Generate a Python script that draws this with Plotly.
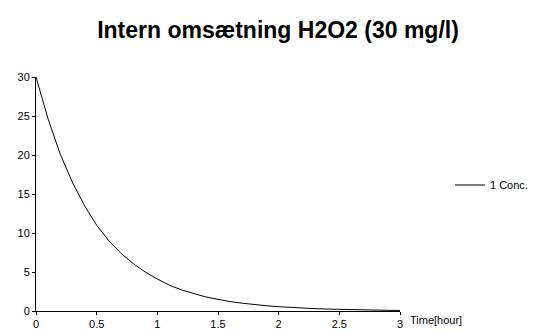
import plotly.graph_objects as go

time_hours = [0.0, 0.1, 0.2, 0.3, 0.4, 0.5, 0.6, 0.7, 0.8, 0.9, 1.0,
              1.1, 1.2, 1.3, 1.4, 1.5, 1.6, 1.7, 1.8, 1.9, 2.0,
              2.1, 2.2, 2.3, 2.4, 2.5, 2.6, 2.7, 2.8, 2.9, 3.0]
conc = [30.0, 24.6, 20.1, 16.5, 13.5, 11.0, 9.0, 7.4, 6.1, 5.0, 4.1,
        3.3, 2.7, 2.2, 1.8, 1.5, 1.2, 1.0, 0.8, 0.67, 0.55,
        0.45, 0.37, 0.30, 0.25, 0.20, 0.17, 0.14, 0.11, 0.09, 0.07]
series_name = "1 Conc."
title_text = "<b>Intern omsætning H2O2 (30 mg/l)</b>"
x_label = "Time[hour]"
x_ticks = [0, 0.5, 1, 1.5, 2, 2.5, 3]
x_ticklabels = ["0", "0.5", "1", "1.5", "2", "2.5", "3"]
y_ticks = [0, 5, 10, 15, 20, 25, 30]

FONT = "Liberation Sans, Arial, sans-serif"

fig = go.Figure()
fig.add_trace(go.Scatter(x=time_hours, y=conc, mode="lines", name=series_name,
                         line=dict(color="black", width=1)))

fig.update_layout(
    width=537, height=333,
    margin=dict(l=36, r=137, t=77, b=22, autoexpand=False),
    paper_bgcolor="white", plot_bgcolor="white",
    font=dict(family=FONT, size=11, color="black"),
    title=dict(text=title_text, x=278 / 537, xanchor="center", y=1 - 30 / 333, yanchor="middle",
               font=dict(family=FONT, size=23, color="black")),
    showlegend=True,
    legend=dict(x=(450 - 36) / 364, xanchor="left", y=(311 - 185) / 234, yanchor="middle",
                bgcolor="rgba(0,0,0,0)", font=dict(family=FONT, size=11),
                itemwidth=30),
    xaxis=dict(range=[0, 3], tickvals=x_ticks, ticktext=x_ticklabels, showgrid=False, zeroline=False,
               showline=True, linecolor="black", linewidth=1, ticks="outside", ticklen=3,
               tickcolor="black", tickfont=dict(size=11), automargin=False),
    yaxis=dict(range=[0, 30], tickvals=y_ticks, showgrid=False, zeroline=False,
               showline=True, linecolor="black", linewidth=1, ticks="outside", ticklen=3,
               tickcolor="black", tickfont=dict(size=11), automargin=False),
)
fig.add_annotation(text=x_label, xref="x", yref="y", x=3, y=0, xanchor="left", yanchor="middle",
                   xshift=8, yshift=-9, showarrow=False, font=dict(family=FONT, size=11))

fig.write_html("out.html")
